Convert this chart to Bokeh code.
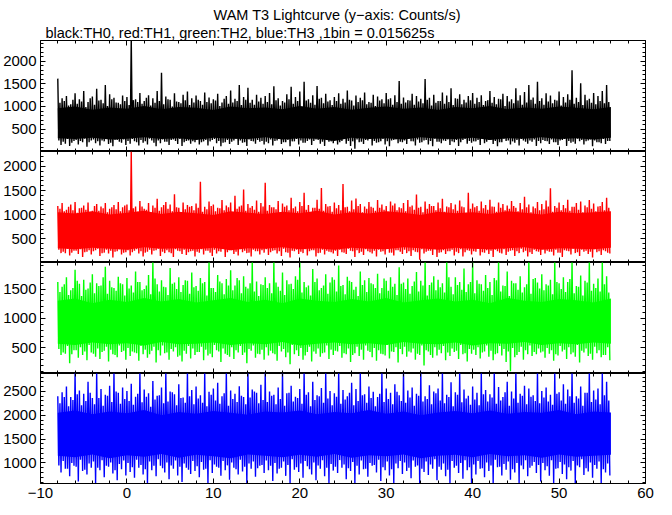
from bokeh.plotting import figure
from bokeh.layouts import column
from bokeh.models import Range1d, LinearAxis, SingleIntervalTicker, Title
from bokeh.embed import file_html
from bokeh.resources import INLINE

# ---- data ----
# per 0.5 s interval: max (hi) and min (lo) of the 1/64 s bins, plus the
# secondary peak (hi2) and secondary dip (lo2) inside the same interval
t_start = -8.0
interval = 0.5
# per 2 s: the solidly filled core of each band (top / bottom)
core_step = 2.0

th0_hi = [1615, 1180, 1230, 1050, 1290, 1160, 1340, 1100, 1220, 1390, 1150, 1474, 1270, 1190, 1080, 1240,
          1210, 2500, 1160, 1300, 1120, 1250, 1180, 1340, 1746, 1220, 1150, 1290, 1100, 1260, 1330, 1180,
          1240, 1120, 1310, 1200, 1160, 1280, 1090, 1230, 1350, 1170, 1474, 1210, 1416, 1150, 1260, 1190,
          1230, 1300, 1445, 1180, 1120, 1270, 1438, 1210, 1330, 1546, 1160, 1250, 1453, 1190, 1280, 1140,
          1210, 1290, 1170, 1350, 1130, 1240, 1190, 1310, 1100, 1260, 1220, 1160, 1300, 1180, 1250, 1561,
          1200, 1140, 1280, 1230, 1170, 1604, 1190, 1260, 1120, 1310, 1240, 1401, 1180, 1270, 1150, 1230,
          1300, 1190, 1250, 1120, 1340, 1210, 1170, 1280, 1230, 1160, 1401, 1250, 1320, 1474, 1200, 1546,
          1180, 1290, 1240, 1150, 1330, 1210, 1270, 1800, 1190, 1510, 1260, 1170, 1300, 1230, 1340, 1474]
th0_hi2 = [1080, 1120, 1020, 1150, 1060, 1110, 990, 1180, 1040, 1130, 1070, 1010, 1160, 1090, 1050, 1120,
           1030, 1140, 1100, 1060, 1190, 1020, 1080, 1120, 1050, 1160, 1000, 1110, 1070, 1140, 1030, 1090,
           1150, 1040, 1100, 1070, 1130, 1010, 1170, 1060, 1090, 1120, 1030, 1150, 1080, 1040, 1110, 1060,
           1100, 1050, 1140, 1020, 1090, 1160, 1060, 1120, 1000, 1130, 1080, 1040, 1170, 1070, 1110, 1030,
           1120, 1060, 1090, 1150, 1020, 1100, 1140, 1050, 1080, 1010, 1130, 1070, 1160, 1040, 1100, 1060,
           1090, 1130, 1040, 1110, 1070, 1150, 1020, 1080, 1120, 1060, 1100, 1030, 1170, 1050, 1090, 1140,
           1060, 1100, 1030, 1140, 1080, 1050, 1160, 1010, 1110, 1070, 1130, 1040, 1090, 1150, 1060, 1120,
           1040, 1110, 1070, 1130, 1020, 1090, 1150, 1060, 1100, 1030, 1140, 1080, 1050, 1120, 1070, 1100]
th0_lo = [150, 180, 130, 240, 160, 210, 110, 250, 190, 140, 230, 170, 120, 260, 200, 150,
          180, 230, 140, 200, 160, 250, 120, 190, 220, 150, 270, 170, 130, 240, 180, 210,
          160, 230, 140, 260, 190, 120, 210, 170, 250, 150, 200, 130, 240, 180, 220, 160,
          190, 140, 250, 170, 210, 120, 230, 160, 200, 240, 150, 270, 180, 130, 220, 190,
          160, 240, 180, 130, 65, 210, 170, 250, 140, 200, 230, 160, 120, 260, 190, 210,
          170, 230, 140, 200, 250, 160, 120, 220, 190, 240, 150, 210, 130, 260, 180, 200,
          230, 150, 190, 260, 170, 120, 210, 240, 160, 200, 140, 250, 180, 220, 130, 190,
          240, 170, 210, 150, 260, 130, 200, 180, 230, 160, 250, 120, 210, 190, 170, 240]
th0_lo2 = [250, 220, 280, 200, 260, 240, 290, 210, 270, 230, 250, 280, 200, 260, 220, 270,
           240, 280, 210, 260, 230, 290, 200, 250, 270, 220, 260, 240, 280, 210, 250, 230,
           270, 210, 260, 230, 280, 240, 200, 260, 220, 290, 250, 210, 270, 230, 260, 240,
           220, 270, 240, 290, 210, 260, 230, 280, 250, 200, 270, 240, 260, 220, 290, 230,
           260, 210, 280, 240, 230, 270, 220, 260, 290, 240, 210, 280, 230, 250, 270, 220,
           250, 280, 230, 270, 210, 260, 240, 290, 220, 250, 270, 230, 260, 210, 280, 240,
           230, 260, 280, 220, 270, 240, 210, 290, 250, 230, 260, 280, 220, 250, 270, 240,
           260, 230, 270, 210, 250, 280, 240, 220, 290, 260, 230, 270, 250, 210, 280, 240]
th0_core_top = [960, 1000, 930, 980, 950, 1010, 940, 990, 970, 920, 1000, 960, 980, 940, 1010, 950, 990,
                930, 970, 1000, 950, 980, 920, 990, 960, 1010, 940, 980, 950, 1000, 970, 940, 990]
th0_core_bot = [300, 280, 310, 270, 290, 320, 280, 300, 260, 310, 290, 280, 320, 270, 300, 290, 240,
                310, 280, 300, 270, 320, 290, 280, 310, 260, 300, 290, 320, 280, 300, 270, 310]

th1_hi = [1180, 1240, 1100, 1210, 1260, 1130, 1190, 1250, 1080, 1220, 1170, 1240, 1120, 1200, 1260, 1150,
          1210, 2310, 1170, 1280, 1120, 1240, 1190, 1330, 1150, 1260, 1210, 1420, 1140, 1250, 1200, 1180,
          1230, 1680, 1160, 1270, 1210, 1140, 1300, 1190, 1250, 1390, 1170, 1520, 1220, 1180, 1290, 1240,
          1660, 1200, 1150, 1280, 1230, 1190, 1348, 1170, 1260, 1451, 1200, 1140, 1310, 1553, 1220, 1180,
          1250, 1200, 1635, 1160, 1290, 1336, 1220, 1170, 1260, 1140, 1300, 1210, 1180, 1270, 1230, 1150,
          1240, 1300, 1190, 1418, 1160, 1270, 1220, 1180, 1250, 1330, 1170, 1240, 1210, 1290, 1150, 1451,
          1230, 1180, 1270, 1200, 1310, 1160, 1250, 1220, 1190, 1280, 1140, 1240, 1370, 1210, 1170, 1260,
          1220, 1290, 1547, 1180, 1250, 1200, 1310, 1160, 1240, 1270, 1190, 1300, 1230, 1170, 1260, 1348]
th1_hi2 = [1120, 1070, 1160, 1090, 1040, 1140, 1100, 1060, 1180, 1080, 1130, 1050, 1150, 1110, 1070, 1190,
           1090, 1130, 1060, 1170, 1100, 1050, 1140, 1080, 1200, 1120, 1070, 1150, 1040, 1110, 1160, 1090,
           1140, 1060, 1110, 1180, 1070, 1130, 1090, 1150, 1050, 1120, 1190, 1080, 1140, 1100, 1060, 1170,
           1080, 1150, 1110, 1040, 1160, 1090, 1130, 1070, 1180, 1100, 1050, 1140, 1120, 1080, 1170, 1060,
           1130, 1090, 1150, 1070, 1110, 1180, 1050, 1120, 1160, 1080, 1140, 1100, 1060, 1190, 1090, 1130,
           1070, 1160, 1100, 1140, 1050, 1120, 1180, 1090, 1130, 1060, 1150, 1110, 1080, 1170, 1040, 1120,
           1150, 1080, 1130, 1100, 1170, 1060, 1140, 1090, 1120, 1180, 1070, 1110, 1150, 1050, 1130, 1090,
           1110, 1170, 1060, 1140, 1090, 1130, 1080, 1160, 1100, 1050, 1150, 1120, 1070, 1180, 1090, 1140]
th1_lo = [200, 200, 150, 250, 180, 120, 230, 170, 260, 140, 210, 190, 110, 240, 170, 220,
          150, 250, 190, 130, 230, 170, 260, 140, 200, 220, 120, 250, 180, 160, 240, 130,
          210, 170, 250, 140, 190, 230, 120, 260, 180, 150, 220, 200, 130, 240, 170, 210,
          160, 250, 190, 140, 220, 110, 240, 180, 200, 150, 260, 130, 210, 170, 230, 190,
          140, 220, 180, 250, 120, 200, 160, 240, 190, 130, 230, 170, 210, 150, 260, 180,
          200, 140, 230, 60, 190, 250, 160, 120, 220, 180, 240, 150, 200, 130, 260, 170,
          230, 150, 210, 180, 120, 240, 190, 160, 250, 140, 200, 220, 130, 180, 240, 160,
          190, 230, 150, 210, 120, 250, 170, 200, 140, 230, 180, 110, 220, 160, 240, 190]
th1_lo2 = [270, 230, 290, 210, 250, 280, 220, 260, 240, 290, 200, 270, 250, 230, 280, 210,
           260, 220, 280, 240, 210, 270, 250, 290, 230, 260, 200, 280, 240, 270, 220, 250,
           230, 280, 250, 210, 270, 240, 290, 220, 260, 230, 280, 250, 210, 270, 240, 260,
           280, 220, 260, 240, 290, 210, 250, 270, 230, 280, 240, 260, 200, 270, 250, 220,
           250, 270, 210, 290, 240, 260, 230, 280, 220, 250, 270, 240, 290, 210, 260, 230,
           270, 240, 260, 220, 280, 230, 250, 290, 210, 260, 240, 270, 230, 280, 220, 250,
           240, 290, 220, 260, 250, 270, 210, 280, 230, 260, 240, 290, 250, 220, 270, 230,
           280, 250, 230, 270, 210, 260, 240, 290, 220, 270, 250, 230, 280, 240, 260, 210]
th1_core_top = [1050, 1020, 1070, 1000, 1040, 1080, 1010, 1060, 1030, 990, 1070, 1040, 1010, 1060, 1030, 1080, 1000,
                1050, 1020, 1070, 1040, 990, 1060, 1030, 1050, 1010, 1070, 1040, 1000, 1060, 1030, 1050, 1070]
th1_core_bot = [300, 280, 310, 290, 270, 320, 290, 300, 280, 310, 260, 300, 290, 320, 280, 300, 270,
                310, 290, 280, 320, 300, 270, 310, 290, 280, 300, 320, 270, 300, 290, 280, 310]

th2_hi = [1620, 1540, 1700, 1480, 1830, 1590, 1660, 1510, 1750, 1600, 1560, 1880, 1640, 1520, 1710, 1580,
          1690, 1560, 1800, 1620, 1500, 1740, 1960, 1580, 1650, 1530, 1860, 1610, 1700, 1570, 1640, 1780,
          1550, 1690, 1620, 1960, 1520, 1740, 1600, 1670, 1820, 1560, 1650, 1720, 1510, 1960, 1630, 1580,
          1700, 1600, 1960, 1540, 1780, 1650, 1590, 1720, 1960, 1620, 1560, 1840, 1680, 1520, 1750, 1610,
          1660, 1900, 1570, 1710, 1620, 1540, 1800, 1650, 1690, 1580, 1760, 1520, 1640, 1700, 1590, 1870,
          1610, 1680, 1550, 1790, 1640, 1960, 1570, 1720, 1660, 1600, 1960, 1540, 1700, 1620, 1850, 1580,
          1960, 1650, 1580, 1740, 1620, 1690, 1960, 1560, 1800, 1640, 1600, 1720, 1530, 1960, 1670, 1610,
          1750, 1580, 1660, 1960, 1600, 1700, 1620, 1960, 1550, 1730, 1640, 1960, 1590, 1680, 1960, 1720]
th2_hi2 = [1450, 1580, 1400, 1520, 1640, 1380, 1490, 1610, 1430, 1550, 1700, 1420, 1530, 1470, 1600, 1390,
           1510, 1440, 1620, 1480, 1560, 1410, 1680, 1460, 1540, 1400, 1590, 1500, 1450, 1650, 1420, 1530,
           1470, 1600, 1390, 1520, 1450, 1630, 1410, 1560, 1480, 1690, 1430, 1540, 1600, 1460, 1380, 1570,
           1520, 1430, 1610, 1470, 1400, 1580, 1500, 1660, 1440, 1530, 1390, 1620, 1480, 1560, 1420, 1700,
           1460, 1550, 1410, 1640, 1490, 1380, 1570, 1450, 1600, 1520, 1430, 1680, 1470, 1540, 1400, 1590,
           1500, 1420, 1630, 1460, 1560, 1390, 1610, 1480, 1530, 1440, 1700, 1410, 1570, 1490, 1450, 1620,
           1430, 1590, 1470, 1520, 1400, 1650, 1460, 1550, 1380, 1600, 1490, 1440, 1580, 1420, 1690, 1510,
           1480, 1560, 1410, 1620, 1500, 1450, 1670, 1430, 1540, 1390, 1610, 1470, 1520, 1460, 1580, 1440]
th2_lo = [380, 400, 240, 460, 330, 380, 290, 420, 350, 310, 450, 270, 390, 340, 430, 300,
          360, 420, 280, 390, 330, 450, 250, 370, 410, 300, 440, 350, 270, 400, 320, 380,
          430, 290, 370, 340, 460, 260, 400, 350, 310, 420, 380, 240, 450, 330, 390, 300,
          370, 410, 280, 440, 340, 220, 390, 360, 300, 430, 270, 400, 350, 420, 310, 380,
          440, 330, 390, 260, 410, 360, 300, 450, 340, 280, 400, 370, 320, 430, 250, 390,
          350, 420, 300, 380, 200, 440, 330, 370, 410, 290, 360, 430, 310, 390, 270, 400,
          380, 320, 440, 350, 290, 410, 370, 260, 104, 340, 430, 300, 390, 360, 390, 420,
          330, 400, 280, 370, 440, 310, 390, 350, 250, 420, 360, 300, 410, 340, 380, 290]
th2_lo2 = [480, 420, 530, 390, 460, 510, 440, 550, 400, 490, 430, 520, 470, 380, 540, 450,
           500, 440, 410, 530, 470, 390, 520, 460, 540, 420, 480, 510, 370, 450, 530, 490,
           430, 520, 470, 400, 550, 440, 490, 380, 510, 460, 530, 420, 480, 540, 400, 470,
           510, 450, 390, 530, 480, 420, 550, 460, 500, 370, 520, 440, 490, 410, 540, 470,
           450, 530, 410, 490, 380, 520, 470, 540, 430, 500, 460, 390, 550, 440, 510, 480,
           520, 440, 490, 400, 540, 460, 380, 510, 470, 530, 420, 490, 450, 550, 410, 480,
           470, 510, 420, 540, 450, 390, 530, 480, 440, 500, 380, 520, 460, 540, 430, 490,
           440, 500, 460, 390, 530, 470, 510, 420, 550, 450, 490, 400, 520, 460, 380, 510]
th2_core_top = [1300, 1340, 1260, 1320, 1280, 1350, 1290, 1330, 1270, 1310, 1350, 1280, 1320, 1260, 1340, 1300, 1280,
                1330, 1290, 1350, 1270, 1310, 1340, 1290, 1320, 1260, 1350, 1300, 1280, 1330, 1310, 1270, 1340]
th2_core_bot = [570, 550, 590, 560, 580, 540, 600, 560, 570, 590, 550, 580, 560, 600, 540, 570, 590,
                560, 580, 550, 600, 570, 560, 590, 540, 580, 570, 600, 550, 580, 560, 590, 570]

th3_hi = [2400, 2480, 2600, 2380, 2900, 2520, 2450, 2700, 2360, 2900, 2550, 2430, 2620, 2900, 2470, 2580,
          2510, 2660, 2390, 2900, 2540, 2460, 2720, 2410, 2580, 2900, 2500, 2440, 2650, 2370, 2900, 2530,
          2600, 2420, 2900, 2490, 2560, 2680, 2400, 2900, 2520, 2450, 2610, 2380, 2900, 2540, 2470, 2640,
          2900, 2500, 2430, 2580, 2900, 2460, 2620, 2390, 2550, 2900, 2480, 2700, 2420, 2570, 2900, 2510,
          2460, 2900, 2530, 2400, 2680, 2550, 2900, 2440, 2600, 2490, 2380, 2900, 2560, 2470, 2650, 2420,
          2900, 2520, 2580, 2450, 2900, 2400, 2630, 2500, 2560, 2900, 2430, 2690, 2480, 2900, 2540, 2410,
          2600, 2470, 2900, 2530, 2440, 2900, 2590, 2380, 2700, 2500, 2900, 2450, 2620, 2560, 2420, 2900,
          2510, 2580, 2430, 2900, 2480, 2650, 2540, 2900, 2400, 2600, 2470, 2900, 2520, 2560, 2900, 2700]
th3_hi2 = [2250, 2380, 2190, 2320, 2440, 2210, 2300, 2470, 2230, 2360, 2200, 2410, 2280, 2500, 2240, 2340,
           2300, 2220, 2450, 2270, 2390, 2180, 2330, 2420, 2250, 2290, 2480, 2210, 2360, 2260, 2400, 2230,
           2350, 2260, 2190, 2430, 2310, 2240, 2460, 2200, 2340, 2280, 2410, 2230, 2370, 2500, 2250, 2320,
           2280, 2410, 2230, 2340, 2200, 2470, 2290, 2360, 2240, 2430, 2190, 2320, 2400, 2260, 2350, 2210,
           2390, 2240, 2330, 2470, 2210, 2300, 2420, 2260, 2360, 2190, 2450, 2280, 2340, 2230, 2490, 2300,
           2260, 2370, 2200, 2410, 2290, 2340, 2230, 2460, 2310, 2250, 2380, 2190, 2430, 2270, 2350, 2220,
           2330, 2210, 2440, 2290, 2370, 2240, 2310, 2480, 2200, 2350, 2260, 2410, 2230, 2390, 2300, 2250,
           2370, 2290, 2220, 2450, 2310, 2240, 2400, 2260, 2350, 2200, 2470, 2280, 2330, 2230, 2420, 2310]
th3_lo = [800, 880, 720, 940, 610, 830, 760, 900, 580, 850, 700, 920, 780, 640, 870, 740,
          810, 690, 900, 760, 580, 850, 720, 940, 800, 660, 880, 740, 600, 900, 770, 830,
          700, 860, 580, 790, 920, 730, 850, 650, 900, 760, 820, 580, 880, 710, 940, 790,
          850, 620, 780, 900, 730, 580, 860, 810, 690, 930, 760, 640, 880, 720, 580, 840,
          790, 900, 660, 830, 580, 760, 870, 710, 940, 800, 620, 850, 740, 580, 890, 770,
          830, 680, 920, 580, 810, 750, 880, 640, 860, 720, 580, 900, 790, 670, 850, 580,
          760, 880, 700, 830, 580, 910, 740, 860, 650, 800, 580, 870, 720, 940, 790, 610,
          850, 730, 580, 890, 770, 660, 840, 580, 910, 750, 820, 690, 880, 580, 800, 740]
th3_lo2 = [950, 1040, 880, 1000, 920, 1070, 860, 990, 1030, 900, 1060, 940, 1010, 850, 980, 1050,
           1000, 910, 1070, 960, 870, 1030, 940, 1080, 890, 1010, 950, 1050, 920, 990, 860, 1040,
           930, 1020, 880, 1060, 970, 900, 1040, 950, 1010, 870, 1070, 920, 990, 1030, 890, 960,
           1050, 940, 1000, 880, 1030, 960, 1080, 910, 990, 1040, 870, 1010, 950, 1060, 900, 980,
           920, 1060, 970, 890, 1020, 940, 1050, 880, 1000, 960, 1070, 910, 1030, 870, 990, 1040,
           1010, 900, 1050, 950, 880, 1030, 970, 1080, 920, 990, 860, 1040, 940, 1000, 1060, 910,
           970, 1040, 890, 1010, 950, 1070, 920, 980, 1030, 870, 1000, 950, 1060, 900, 1020, 960,
           1000, 930, 1060, 880, 1020, 970, 910, 1040, 950, 1080, 890, 1010, 960, 1030, 870, 990]
th3_core_top = [2050, 2100, 2020, 2080, 2040, 2110, 2000, 2070, 2030, 2090, 2050, 2010, 2080, 2060, 2100, 2020, 2070,
                2040, 2110, 2030, 2080, 2000, 2060, 2090, 2040, 2100, 2030, 2070, 2050, 2110, 2020, 2080, 2060]
th3_core_bot = [1150, 1120, 1180, 1100, 1160, 1130, 1190, 1110, 1170, 1140, 1100, 1180, 1150, 1120, 1170, 1130, 1190,
                1110, 1160, 1140, 1180, 1100, 1150, 1170, 1120, 1190, 1140, 1160, 1110, 1180, 1130, 1150, 1170]

series = [
    ("TH0", th0_hi, th0_lo2, th0_hi2, th0_lo, th0_core_top, th0_core_bot, "#000000", (6, 2457), 111),
    ("TH1", th1_hi, th1_lo2, th1_hi2, th1_lo, th1_core_top, th1_core_bot, "#ff0000", (5, 2310), 111),
    ("TH2", th2_hi, th2_lo2, th2_hi2, th2_lo, th2_core_top, th2_core_bot, "#00ff00", (64, 1952), 111),
    ("TH3", th3_hi, th3_lo2, th3_hi2, th3_lo, th3_core_top, th3_core_bot, "#0000ff", (570, 2875), 110),
]

title_text = "WAM T3 Lightcurve (y\u2212axis: Counts/s)"
subtitle_text = "black:TH0, red:TH1, green:TH2, blue:TH3 ,1bin = 0.015625s"

FONT = "Liberation Sans"
TICK_PX = "15px"
FRAME_W = 605

x_range = Range1d(-10, 60)


def style_axis(ax, show_labels):
    ax.axis_line_color = None
    ax.major_tick_in = 5
    ax.major_tick_out = 0
    ax.minor_tick_in = 3
    ax.minor_tick_out = 0
    ax.major_tick_line_color = "black"
    ax.minor_tick_line_color = "black"
    ax.major_label_text_font = FONT
    if show_labels:
        ax.major_label_text_color = "black"
        ax.major_label_text_font_size = TICK_PX
        ax.major_label_standoff = 4
    else:
        ax.major_label_text_color = None
        ax.major_label_text_font_size = "0px"
        ax.major_label_standoff = 0


def trace(*lists):
    # visit the values of each 0.5 s interval in turn: hi, lo2, hi2, lo
    m = len(lists)
    xs, ys = [], []
    for k in range(len(lists[0])):
        t0 = t_start + k * interval
        for j, vals in enumerate(lists):
            xs.append(t0 + j * interval / m)
            ys.append(vals[k])
    return xs, ys


figs = []
n = len(series)
for i, (name, hi, lo2, hi2, lo, ctop, cbot, color, yr, fh) in enumerate(series):
    last = i == n - 1
    first = i == 0
    p = figure(frame_width=FRAME_W, frame_height=fh,
               x_range=x_range, y_range=Range1d(*yr),
               output_backend="svg", toolbar_location=None, title=None,
               min_border_left=37, min_border_right=10,
               min_border_top=40 if first else 0, min_border_bottom=0,
               background_fill_color="white", border_fill_color="white")
    p.outline_line_color = "black"
    p.outline_line_width = 1
    p.xgrid.visible = False
    p.ygrid.visible = False

    yt = SingleIntervalTicker(interval=500, num_minor_ticks=5)
    xt = SingleIntervalTicker(interval=10, num_minor_ticks=5)
    p.yaxis[0].ticker = yt
    p.xaxis[0].ticker = xt
    style_axis(p.yaxis[0], True)
    style_axis(p.xaxis[0], last)

    ra = LinearAxis(ticker=yt)
    style_axis(ra, False)
    p.add_layout(ra, "right")
    ta = LinearAxis(ticker=xt)
    style_axis(ta, False)
    p.add_layout(ta, "above")

    if first:
        sub = Title(text=subtitle_text, align="left", offset=5, text_font=FONT,
                    text_font_size="14.5px", text_font_style="normal",
                    text_color="black", standoff=0)
        p.add_layout(sub, "above")
        main = Title(text=title_text, align="left", offset=173, text_font=FONT,
                     text_font_size="14.5px", text_font_style="normal",
                     text_color="black", standoff=0)
        p.add_layout(main, "above")

    cx = [t_start + j * core_step for j in range(len(ctop))]
    p.varea(x=cx, y1=cbot, y2=ctop, fill_color=color, fill_alpha=1)
    xs, ys = trace(hi, lo2, hi2, lo)
    p.line(xs, ys, line_color=color, line_width=1.4)
    figs.append(p)

layout = column(*figs, spacing=0)
open("out.html", "w").write(file_html(layout, INLINE))
